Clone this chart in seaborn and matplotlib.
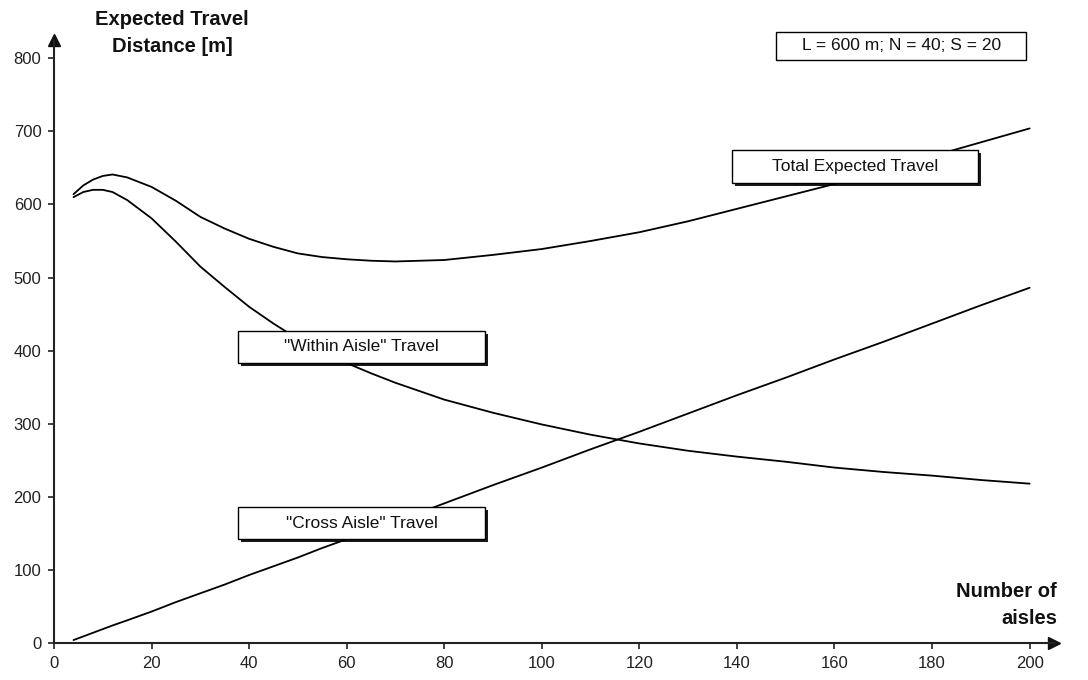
import matplotlib
matplotlib.use("Agg")
import matplotlib.pyplot as plt
import matplotlib.patheffects as pe
from matplotlib.patches import Rectangle
import pandas as pd
import seaborn as sns

# Number of aisles at which the travel components were evaluated
aisles = [4, 6, 8, 10, 12, 15, 20, 25, 30, 35, 40, 45, 50, 55, 60, 65, 70,
          80, 90, 100, 110, 120, 130, 140, 150, 160, 170, 180, 190, 200]

# Expected travel distances [m]
within_aisle = [610, 617, 620, 620, 617, 606, 581, 549, 515, 487, 460, 437,
                416, 398, 383, 369, 356, 333, 315, 299, 285, 273, 263, 255,
                248, 240, 234, 229, 223, 218]
cross_aisle = [4, 9, 14, 19, 24, 31, 43, 56, 68, 80, 93, 105, 117, 130, 142,
               154, 166, 191, 216, 240, 265, 289, 314, 339, 363, 388, 412,
               437, 462, 486]
total_travel = [614, 626, 634, 639, 641, 637, 624, 605, 583, 567, 553, 542,
                533, 528, 525, 523, 522, 524, 531, 539, 550, 562, 577, 594,
                611, 628, 646, 666, 685, 704]

y_ticks = [0, 100, 200, 300, 400, 500, 600, 700, 800]
x_ticks = [0, 20, 40, 60, 80, 100, 120, 140, 160, 180, 200]

series_names = ["Total Expected Travel", '"Within Aisle" Travel',
                '"Cross Aisle" Travel']

df = pd.concat([
    pd.DataFrame({"aisles": aisles, "distance": total_travel,
                  "series": series_names[0]}),
    pd.DataFrame({"aisles": aisles, "distance": within_aisle,
                  "series": series_names[1]}),
    pd.DataFrame({"aisles": aisles, "distance": cross_aisle,
                  "series": series_names[2]}),
])

sns.set_style("white")
plt.rcParams["font.family"] = ["Liberation Sans", "DejaVu Sans"]

fig = plt.figure(figsize=(10.88, 6.8), dpi=100)
ax = fig.add_axes([54 / 1088, 37 / 680, 1000 / 1088, 603 / 680])

sns.lineplot(data=df, x="aisles", y="distance", hue="series",
             palette={s: "black" for s in series_names}, linewidth=1.3,
             legend=False, ax=ax, zorder=2)

ax.set_xlim(0, 205)
ax.set_ylim(0, 825)
ax.set_xticks(x_ticks)
ax.set_yticks(y_ticks)
ax.set_xlabel("")
ax.set_ylabel("")
ax.tick_params(axis="both", direction="out", length=4, width=1.2,
               labelsize=12, colors="#222222", pad=5)
ax.tick_params(axis="both", bottom=True, left=True)

for side in ("top", "right"):
    ax.spines[side].set_visible(False)
for side in ("left", "bottom"):
    ax.spines[side].set_linewidth(1.5)
    ax.spines[side].set_color("#222222")

# Arrow heads at the ends of the axes
ax.plot(1, 0, marker=">", color="#111111", markersize=9,
        transform=ax.transAxes, clip_on=False)
ax.plot(0, 1, marker="^", color="#111111", markersize=9,
        transform=ax.transAxes, clip_on=False)

# Axis titles
fig.text(172 / 1088, 1 - 33 / 680, "Expected Travel\nDistance [m]",
         ha="center", va="center", fontsize=14.5, fontweight="bold",
         linespacing=1.55, color="#111111")
fig.text(1057 / 1088, 1 - 605 / 680, "Number of\naisles",
         ha="right", va="center", fontsize=14.5, fontweight="bold",
         linespacing=1.5, multialignment="right", color="#111111")


def label_box(x0, y0, x1, y1, text, shadow=True):
    rect = Rectangle((x0, y0), x1 - x0, y1 - y0, facecolor="white",
                     edgecolor="black", linewidth=1.0, zorder=4)
    if shadow:
        rect.set_path_effects([
            pe.SimplePatchShadow(offset=(2.2, -2.2), shadow_rgbFace="black",
                                 alpha=0.9),
            pe.Normal(),
        ])
    ax.add_patch(rect)
    ax.text((x0 + x1) / 2, (y0 + y1) / 2, text, ha="center", va="center",
            fontsize=12.5, color="#111111", zorder=5)


label_box(139.0, 630.0, 189.5, 675.0, series_names[0])
label_box(37.7, 383.0, 88.4, 427.0, series_names[1])
label_box(37.7, 142.0, 88.4, 186.0, series_names[2])
label_box(148.0, 798.0, 199.3, 836.0, "L = 600 m; N = 40; S = 20",
          shadow=False)
for p in ax.patches:
    p.set_clip_on(False)

fig.savefig("out.png", dpi=100, facecolor="white")
